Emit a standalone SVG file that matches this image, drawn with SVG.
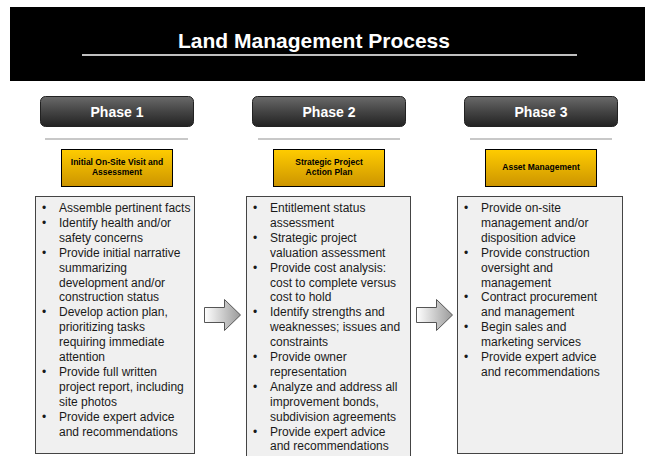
<svg xmlns="http://www.w3.org/2000/svg" width="645" height="456" viewBox="0 0 645 456">
<defs>
<linearGradient id="btn" x1="0" y1="0" x2="0" y2="1">
<stop offset="0" stop-color="#6a6a6a"/><stop offset="0.5" stop-color="#444"/><stop offset="1" stop-color="#222"/>
</linearGradient>
<linearGradient id="org" x1="0" y1="0" x2="0" y2="1">
<stop offset="0" stop-color="#ffcc00"/><stop offset="1" stop-color="#cc9400"/>
</linearGradient>
<linearGradient id="arr" x1="0" y1="0" x2="1" y2="0">
<stop offset="0" stop-color="#ffffff"/><stop offset="1" stop-color="#9a9a9a"/>
</linearGradient>
<style>
.t{font-family:"Liberation Sans",Arial,sans-serif}
.btn{fill:url(#btn);stroke:#222;stroke-width:1}
.bt{font-size:14px;font-weight:bold;fill:#fff;text-anchor:middle}
.sep{stroke:#c8c8c8;stroke-width:2}
.org{fill:url(#org);stroke:#000;stroke-width:1}
.ot{font-size:8.5px;font-weight:bold;fill:#000;text-anchor:middle}
.box{fill:#f0f0f0;stroke:#444;stroke-width:1}
.li{font-size:12px;fill:#1a1a1a}
.ar{fill:url(#arr);stroke:#555;stroke-width:1}
</style>
</defs>
<rect width="645" height="456" fill="#fff"/>
<g id="header">
<rect x="10" y="7" width="635" height="74" fill="#000"/>
<text class="t" x="314" y="48" font-size="21" font-weight="bold" fill="#fff" text-anchor="middle">Land Management Process</text>
<line x1="82" y1="55" x2="577" y2="55" stroke="#fff" stroke-width="1.5"/>
</g>
<g id="phase1">
<rect class="btn" x="40.5" y="96.5" width="153" height="30" rx="5"/>
<text class="t bt" x="117" y="117">Phase 1</text>
<line class="sep" x1="45" y1="139" x2="188" y2="139"/>
<rect class="org" x="61.5" y="149.5" width="111" height="37"/>
<text class="t ot" x="117" y="165">Initial On-Site Visit and</text>
<text class="t ot" x="117" y="175">Assessment</text>
<rect class="box" x="35.5" y="196.5" width="159" height="257"/>
<g class="t li">
<text x="42" y="212">•</text><text x="59" y="212">Assemble pertinent facts</text>
<text x="42" y="226.9">•</text><text x="59" y="226.9">Identify health and/or</text>
<text x="59" y="241.8">safety concerns</text>
<text x="42" y="256.7">•</text><text x="59" y="256.7">Provide initial narrative</text>
<text x="59" y="271.6">summarizing</text>
<text x="59" y="286.5">development and/or</text>
<text x="59" y="301.4">construction status</text>
<text x="42" y="316.3">•</text><text x="59" y="316.3">Develop action plan,</text>
<text x="59" y="331.2">prioritizing tasks</text>
<text x="59" y="346.1">requiring immediate</text>
<text x="59" y="361">attention</text>
<text x="42" y="375.9">•</text><text x="59" y="375.9">Provide full written</text>
<text x="59" y="390.8">project report, including</text>
<text x="59" y="405.7">site photos</text>
<text x="42" y="420.6">•</text><text x="59" y="420.6">Provide expert advice</text>
<text x="59" y="435.5">and recommendations</text>
</g>
</g>
<g id="phase2">
<rect class="btn" x="252.5" y="96.5" width="153" height="30" rx="5"/>
<text class="t bt" x="329" y="117">Phase 2</text>
<line class="sep" x1="258" y1="139" x2="400" y2="139"/>
<rect class="org" x="273.5" y="149.5" width="111" height="37"/>
<text class="t ot" x="329" y="165">Strategic Project</text>
<text class="t ot" x="329" y="175">Action Plan</text>
<rect class="box" x="246.5" y="196.5" width="164" height="262"/>
<g class="t li">
<text x="253" y="212">•</text><text x="270" y="212">Entitlement status</text>
<text x="270" y="226.9">assessment</text>
<text x="253" y="241.8">•</text><text x="270" y="241.8">Strategic project</text>
<text x="270" y="256.7">valuation assessment</text>
<text x="253" y="271.6">•</text><text x="270" y="271.6">Provide cost analysis:</text>
<text x="270" y="286.5">cost to complete versus</text>
<text x="270" y="301.4">cost to hold</text>
<text x="253" y="316.3">•</text><text x="270" y="316.3">Identify strengths and</text>
<text x="270" y="331.2">weaknesses; issues and</text>
<text x="270" y="346.1">constraints</text>
<text x="253" y="361">•</text><text x="270" y="361">Provide owner</text>
<text x="270" y="375.9">representation</text>
<text x="253" y="390.8">•</text><text x="270" y="390.8">Analyze and address all</text>
<text x="270" y="405.7">improvement bonds,</text>
<text x="270" y="420.6">subdivision agreements</text>
<text x="253" y="435.5">•</text><text x="270" y="435.5">Provide expert advice</text>
<text x="270" y="450.4">and recommendations</text>
</g>
</g>
<g id="phase3">
<rect class="btn" x="464.5" y="96.5" width="153" height="30" rx="5"/>
<text class="t bt" x="541" y="117">Phase 3</text>
<line class="sep" x1="470" y1="139" x2="612" y2="139"/>
<rect class="org" x="485.5" y="149.5" width="111" height="37"/>
<text class="t ot" x="541" y="170">Asset Management</text>
<rect class="box" x="457.5" y="196.5" width="165" height="257"/>
<g class="t li">
<text x="464" y="212">•</text><text x="481" y="212">Provide on-site</text>
<text x="481" y="226.9">management and/or</text>
<text x="481" y="241.8">disposition advice</text>
<text x="464" y="256.7">•</text><text x="481" y="256.7">Provide construction</text>
<text x="481" y="271.6">oversight and</text>
<text x="481" y="286.5">management</text>
<text x="464" y="301.4">•</text><text x="481" y="301.4">Contract procurement</text>
<text x="481" y="316.3">and management</text>
<text x="464" y="331.2">•</text><text x="481" y="331.2">Begin sales and</text>
<text x="481" y="346.1">marketing services</text>
<text x="464" y="361">•</text><text x="481" y="361">Provide expert advice</text>
<text x="481" y="375.9">and recommendations</text>
</g>
</g>
<g id="connectors">
<path class="ar" d="M204.5,307.5 H224.5 V299.5 L240.5,315 L224.5,330.5 V322.5 H204.5 Z"/>
<path class="ar" d="M416.5,307.5 H436.5 V299.5 L452.5,315 L436.5,330.5 V322.5 H416.5 Z"/>
</g>
</svg>
